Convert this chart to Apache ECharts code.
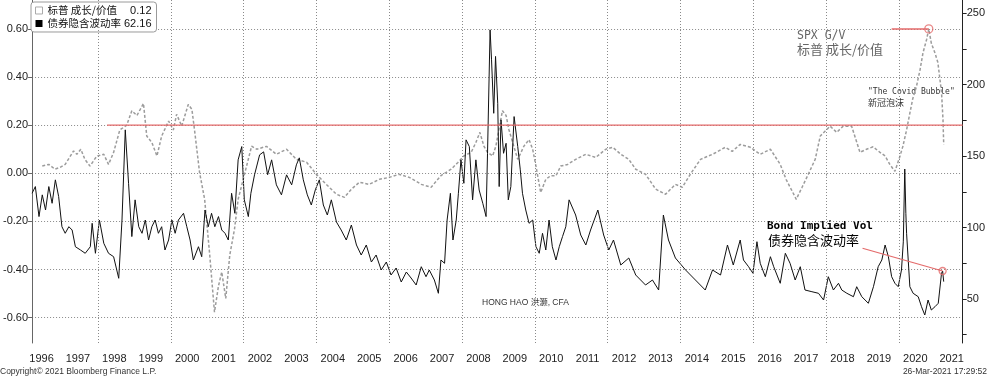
<!DOCTYPE html>
<html><head><meta charset="utf-8">
<script src="https://cdn.jsdelivr.net/npm/echarts@6/dist/echarts.min.js"></script>
<style>html,body{margin:0;padding:0;background:#fff;}#c{width:988px;height:379px;}</style>
</head><body><div id="c"></div>
<script>
// ---- data ----
const gvName = '标普 成长/价值';
const volName = '债券隐含波动率';
const gvLast = '0.12';
const volLast = '62.16';

const gvDates = [1996.47,1996.65,1996.82,1996.96,1997.10,1997.33,1997.42,1997.53,1997.64,1997.78,1997.97,1998.16,1998.29,1998.43,1998.60,1998.79,1998.93,1999.07,1999.25,1999.34,1999.48,1999.62,1999.75,1999.94,2000.07,2000.16,2000.30,2000.48,2000.58,2000.66,2000.79,2000.93,2001.07,2001.20,2001.31,2001.40,2001.51,2001.62,2001.75,2001.85,2001.99,2002.22,2002.36,2002.63,2002.90,2003.18,2003.45,2003.73,2004.00,2004.27,2004.55,2004.77,2004.96,2005.18,2005.45,2005.73,2006.00,2006.27,2006.55,2006.74,2006.88,2007.15,2007.42,2007.70,2007.88,2008.05,2008.25,2008.38,2008.49,2008.60,2008.70,2008.84,2008.93,2009.01,2009.11,2009.21,2009.29,2009.42,2009.53,2009.62,2009.70,2009.84,2009.94,2010.03,2010.16,2010.30,2010.44,2010.58,2010.71,2010.90,2011.12,2011.40,2011.67,2011.95,2012.14,2012.36,2012.58,2012.77,2013.04,2013.32,2013.59,2013.86,2014.05,2014.27,2014.55,2014.88,2015.23,2015.42,2015.64,2015.92,2016.19,2016.47,2016.74,2016.90,2017.07,2017.18,2017.34,2017.51,2017.70,2017.84,2018.11,2018.29,2018.47,2018.70,2018.93,2019.11,2019.29,2019.48,2019.62,2019.75,2019.89,2020.03,2020.11,2020.21,2020.30,2020.38,2020.48,2020.58,2020.66,2020.76,2020.82,2020.89,2020.99,2021.07,2021.17,2021.21,2021.23];
const gvValues = [0.03,0.037,0.017,0.025,0.037,0.093,0.079,0.10,0.058,0.03,0.072,0.079,0.037,0.087,0.18,0.20,0.26,0.24,0.29,0.155,0.128,0.072,0.155,0.217,0.18,0.245,0.196,0.286,0.266,0.17,0.004,-0.108,-0.34,-0.577,-0.468,-0.41,-0.52,-0.34,-0.232,-0.108,-0.025,0.113,0.10,0.112,0.079,0.10,0.058,0.046,-0.004,-0.046,-0.087,-0.10,-0.066,-0.037,-0.046,-0.025,-0.017,-0.004,-0.017,-0.033,-0.046,-0.058,-0.01,0.017,0.044,0.072,0.087,0.128,0.17,0.113,0.087,0.072,0.113,0.18,0.26,0.24,0.18,0.113,0.058,0.087,0.113,0.14,0.10,0.03,-0.08,-0.025,-0.01,-0.01,0.03,0.037,0.058,0.079,0.066,0.10,0.108,0.079,0.058,0.017,-0.004,-0.066,-0.087,-0.046,-0.058,-0.004,0.058,0.079,0.108,0.091,0.12,0.108,0.079,0.10,0.037,-0.025,-0.075,-0.108,-0.058,-0.004,0.058,0.155,0.196,0.17,0.196,0.196,0.087,0.10,0.11,0.087,0.072,0.037,0.008,0.072,0.113,0.18,0.25,0.31,0.36,0.43,0.50,0.556,0.60,0.54,0.50,0.46,0.336,0.224,0.12];

const volDates = [1996.19,1996.28,1996.38,1996.47,1996.56,1996.65,1996.74,1996.83,1996.92,1997.01,1997.10,1997.20,1997.29,1997.38,1997.52,1997.65,1997.79,1997.84,1997.93,1998.04,1998.16,1998.29,1998.43,1998.57,1998.66,1998.75,1998.84,1998.93,1999.02,1999.12,1999.21,1999.30,1999.39,1999.48,1999.57,1999.66,1999.75,1999.84,1999.94,2000.03,2000.12,2000.21,2000.35,2000.44,2000.53,2000.62,2000.76,2000.85,2000.94,2001.03,2001.12,2001.21,2001.31,2001.40,2001.49,2001.58,2001.67,2001.76,2001.85,2001.95,2002.02,2002.13,2002.20,2002.30,2002.44,2002.55,2002.66,2002.77,2002.90,2003.04,2003.18,2003.32,2003.45,2003.53,2003.64,2003.75,2003.86,2003.97,2004.08,2004.19,2004.30,2004.41,2004.55,2004.68,2004.82,2004.96,2005.10,2005.23,2005.37,2005.51,2005.64,2005.78,2005.92,2006.05,2006.19,2006.33,2006.47,2006.60,2006.74,2006.88,2007.01,2007.10,2007.24,2007.35,2007.42,2007.52,2007.59,2007.68,2007.75,2007.84,2007.90,2007.97,2008.05,2008.11,2008.20,2008.29,2008.38,2008.47,2008.57,2008.66,2008.70,2008.77,2008.81,2008.87,2008.92,2008.98,2009.02,2009.07,2009.14,2009.21,2009.27,2009.34,2009.43,2009.53,2009.60,2009.66,2009.75,2009.84,2009.94,2010.03,2010.12,2010.21,2010.30,2010.39,2010.48,2010.58,2010.67,2010.76,2010.85,2010.94,2011.12,2011.26,2011.40,2011.53,2011.73,2011.89,2012.03,2012.16,2012.36,2012.58,2012.77,2013.04,2013.23,2013.40,2013.53,2013.67,2013.86,2014.14,2014.41,2014.68,2014.88,2015.10,2015.29,2015.45,2015.64,2015.73,2015.87,2015.99,2016.10,2016.19,2016.33,2016.47,2016.56,2016.74,2016.88,2017.01,2017.15,2017.29,2017.42,2017.61,2017.79,2017.93,2018.06,2018.20,2018.34,2018.43,2018.57,2018.75,2018.84,2018.98,2019.16,2019.30,2019.43,2019.53,2019.62,2019.71,2019.80,2019.89,2019.98,2020.07,2020.12,2020.16,2020.19,2020.21,2020.30,2020.39,2020.53,2020.62,2020.71,2020.80,2020.89,2020.99,2021.08,2021.17,2021.20,2021.23];
const volValues = [124,128.7,107.7,122.9,112.3,128.7,117,133.4,121.7,100.6,96,100.6,98.3,86.6,84.3,82,86.6,103,82,105.3,89,82,79.6,64.5,105.3,168.4,131,93.7,119.4,100.6,96,105.3,91.3,100.6,105.3,96,100.6,84.3,91.3,105.3,96,105.3,110,100.6,91.3,77.3,86.6,79.6,112.3,100.6,110,100.6,107.7,98.3,96,91.3,124,110,147.4,156.7,119.4,107.7,124,136.9,150.9,153,137,147.4,129.9,122.9,136.9,129.9,143.9,148.8,133.4,122.9,115.8,126.4,133.4,115.8,108.8,119.4,103.9,98.3,91.3,101.8,87.8,80.8,87.8,75.9,80.8,70.3,75.9,66.8,71.7,61.9,68.9,64.7,59.8,72.6,65.6,70.3,63.3,54,77.3,75,105.3,124,91.3,105.3,124,147.4,131,161.4,156.7,119.4,147.4,126.3,117,107.7,152,238.4,217.4,180,219.8,187,128.7,175.4,152,159,119.4,128.7,177.7,156.7,140.4,124,112.3,103,105.3,86.6,82,96,84.3,105.3,86.6,77.3,86.6,93.7,100.6,119.4,108.8,94.8,87.8,98.3,112.3,94.8,84.3,91.3,73.8,78.7,66.8,59.8,63.3,56.3,108.8,91.3,78.7,70.3,63.3,56.3,70.3,66.8,87.8,73.8,91.3,77.3,72.6,68,90.1,75,65.6,79.6,72.6,61,82,75,63.3,72.6,56.3,55.1,54,49.3,65.6,56.3,61,56.3,54,51.6,58.6,51.6,47,58.6,72.6,77.3,87.8,79.6,65.6,61,58.6,70.3,90,141,110,96,58.6,54,51.6,44.6,38.8,49.3,42.3,44.6,47,68,69.6,62.16];

const yearLabels = [1996,1997,1998,1999,2000,2001,2002,2003,2004,2005,2006,2007,2008,2009,2010,2011,2012,2013,2014,2015,2016,2017,2018,2019,2020,2021];
const gridYears = [1998,2000,2002,2004,2006,2008,2010,2012,2014,2016,2018,2020];
const leftTicks = [-0.6,-0.4,-0.2,0,0.2,0.4,0.6];
const rightLabels = [50,100,150,200,250];
const rightTicks = [25,50,75,100,125,150,175,200,225,250];

// annotation values (red marks)
const refLevelDates = [1998.25, 2021.75];
const refLevelValues = [0.2, 0.2];
const peakLineDates = [2019.8, 2020.82];
const peakLineValues = [0.60, 0.60];
const peakPoint = [2020.82, 0.60];
const volArrowDates = [2019.0, 2021.20];
const volArrowValues = [85.5, 69.6];
const volPoint = [2021.20, 69.6];

// ---- chart ----
const pairs = (xs, ys) => xs.map((x, i) => [x, ys[i]]);
const RED = '#e46a6a';
const GRID = '#8a8a8a';
const LAT = '"Liberation Sans","Noto Sans CJK SC",sans-serif';
const MONO = '"DejaVu Sans Mono","Liberation Mono","Noto Sans CJK SC",monospace';
const CJK = '"Noto Sans CJK SC",sans-serif';

const chart = echarts.init(document.getElementById('c'), null, {renderer: 'canvas'});
chart.setOption({
  animation: false,
  backgroundColor: '#fff',
  grid: {left: 30, right: 25, top: 0, bottom: 36, containLabel: false},
  legend: {
    left: 31, top: 2, orient: 'vertical',
    itemWidth: 7, itemHeight: 7, itemGap: 2,
    padding: [3, 5, 3, 4],
    borderColor: '#9a9a9a', borderWidth: 1, borderRadius: 3,
    backgroundColor: '#fff',
    data: [
      {name: gvName, icon: 'rect', itemStyle: {color: '#fff', borderColor: '#aaa', borderWidth: 1}},
      {name: volName, icon: 'rect', itemStyle: {color: '#000', borderWidth: 0}}
    ],
    formatter: n => '{n|' + n + '}{v|' + (n === gvName ? gvLast : volLast) + '}',
    textStyle: {
      fontFamily: LAT, fontSize: 11, color: '#111',
      rich: {n: {width: 77, fontSize: 10.5, fontFamily: CJK}, v: {width: 27, align: 'right', fontSize: 11, fontFamily: LAT}}
    }
  },
  xAxis: [{
    type: 'value', min: 1996.19, max: 2021.75,
    axisLine: {show: false},
    axisTick: {show: true, length: 3, lineStyle: {color: '#bbb'}, customValues: gridYears},
    axisLabel: {
      customValues: yearLabels.map(y => y + 0.45),
      formatter: v => String(Math.floor(v + 0.01)),
      fontFamily: LAT, fontSize: 11, color: '#222', margin: 10
    },
    splitLine: {show: false}
  }],
  yAxis: [
    {
      type: 'value', position: 'left', min: -0.705, max: 0.72,
      axisLine: {show: true, lineStyle: {color: '#666'}},
      axisTick: {show: true, length: 4, lineStyle: {color: '#666'}, customValues: leftTicks},
      axisLabel: {customValues: leftTicks, formatter: v => v.toFixed(2), fontFamily: LAT, fontSize: 11, color: '#222', margin: 4},
      splitLine: {show: true, lineStyle: {color: GRID, type: [1, 2], width: 1}}
    },
    {
      type: 'value', position: 'right', min: 19.2, max: 259.3,
      axisLine: {show: true, lineStyle: {color: '#222'}},
      axisTick: {show: true, length: 4, lineStyle: {color: '#222'}, customValues: rightTicks},
      axisLabel: {customValues: rightLabels, fontFamily: LAT, fontSize: 11, color: '#222', margin: 4},
      splitLine: {show: false}
    }
  ],
  series: [
    {
      type: 'line', yAxisIndex: 0, data: pairs(refLevelDates, refLevelValues),
      symbol: 'none', silent: true, lineStyle: {width: 0, opacity: 0}, z: 1,
      markLine: {
        silent: true, symbol: ['none', 'none'], label: {show: false},
        lineStyle: {color: GRID, type: [1, 2], width: 1, opacity: 1},
        emphasis: {disabled: true},
        data: gridYears.map(y => ({xAxis: y}))
      }
    },
    {
      name: gvName, type: 'line', yAxisIndex: 0, data: pairs(gvDates, gvValues),
      showSymbol: false, symbol: 'none',
      lineStyle: {color: '#9c9c9c', width: 1.5, type: [3, 2]},
      itemStyle: {color: '#9c9c9c'}, z: 2
    },
    {
      name: volName, type: 'line', yAxisIndex: 1, data: pairs(volDates, volValues),
      showSymbol: false, symbol: 'none',
      lineStyle: {color: '#111', width: 1},
      itemStyle: {color: '#111'}, z: 3
    },
    {
      type: 'line', yAxisIndex: 0, data: pairs(refLevelDates, refLevelValues),
      symbol: 'none', silent: true, lineStyle: {color: RED, width: 1.3}, z: 4
    },
    {
      type: 'line', yAxisIndex: 0, data: pairs(peakLineDates, peakLineValues),
      symbol: 'none', silent: true, lineStyle: {color: RED, width: 1.5}, z: 4
    },
    {
      type: 'line', yAxisIndex: 1, data: pairs(volArrowDates, volArrowValues),
      symbol: 'none', silent: true, lineStyle: {color: RED, width: 1.2}, z: 4
    },
    {
      type: 'scatter', yAxisIndex: 0, data: [peakPoint], symbol: 'circle', symbolSize: 8, silent: true,
      itemStyle: {color: 'rgba(255,255,255,0)', borderColor: RED, borderWidth: 1.3}, z: 5
    },
    {
      type: 'scatter', yAxisIndex: 1, data: [volPoint], symbol: 'circle', symbolSize: 7, silent: true,
      itemStyle: {color: 'rgba(255,255,255,0)', borderColor: RED, borderWidth: 1.3}, z: 5
    }
  ],
  graphic: [
    {type: 'text', left: 797, top: 30, style: {text: 'SPX G/V', font: '11.5px ' + MONO, fill: '#666'}},
    {type: 'text', left: 797, top: 43, style: {text: '标普 成长/价值', font: '13px ' + CJK, fill: '#666'}},
    {type: 'text', left: 868, top: 88, style: {text: '"The Covid Bubble"', font: '8px ' + MONO, fill: '#333'}},
    {type: 'text', left: 868, top: 98, style: {text: '新冠泡沫', font: '9px ' + CJK, fill: '#333'}},
    {type: 'text', left: 767, top: 221, style: {text: 'Bond Implied Vol', font: 'bold 11px ' + MONO, fill: '#000'}},
    {type: 'text', left: 768, top: 234, style: {text: '债券隐含波动率', font: '13px ' + CJK, fill: '#000'}},
    {type: 'text', left: 482, top: 298, style: {text: 'HONG HAO 洪灏, CFA', font: '8.5px ' + LAT, fill: '#333'}},
    {type: 'text', left: 0, top: 367, style: {text: 'Copyright© 2021 Bloomberg Finance L.P.', font: '8.5px "Liberation Sans Narrow",' + LAT, fill: '#333'}},
    {type: 'text', right: 1, top: 367, style: {text: '26-Mar-2021 17:29:52', font: '8.5px "Liberation Sans Narrow",' + LAT, fill: '#333'}}
  ]
});
</script>
</body></html>
